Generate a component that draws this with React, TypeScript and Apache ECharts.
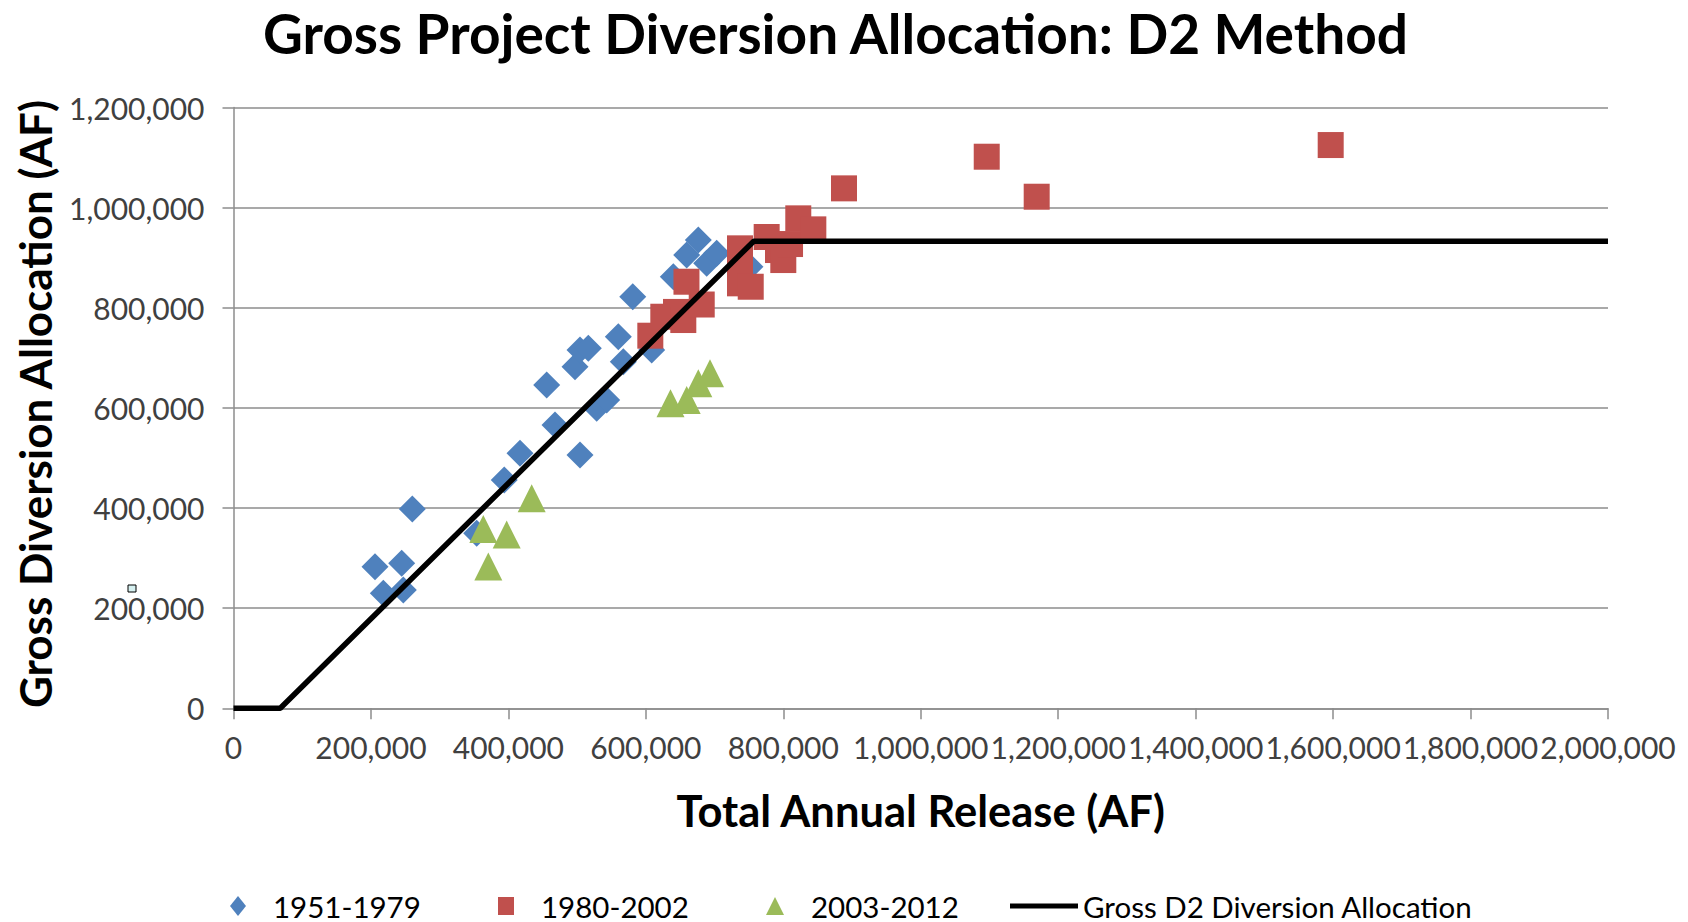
import React, { useEffect, useRef } from "react";
import * as echarts from "echarts";

const xTickValues = [0, 200000, 400000, 600000, 800000, 1000000, 1200000, 1400000, 1600000, 1800000, 2000000];
const yTickValues = [0, 200000, 400000, 600000, 800000, 1000000, 1200000];

const seriesNames = ["1951-1979", "1980-2002", "2003-2012", "Gross D2 Diversion Allocation"];

const blueX = [205900, 218000, 244700, 247100, 260200, 353900, 394000, 416900, 504200, 467800, 455700, 496900, 504200, 516300, 528500, 543000, 559900, 567200, 580900, 608500, 640000, 659400, 676300, 688500, 703100, 751500];
const blueY = [282800, 229700, 289600, 236300, 398000, 349500, 456000, 509300, 505900, 565800, 645700, 682200, 715600, 719000, 599200, 615700, 742200, 692200, 822000, 715600, 862000, 905300, 935300, 888800, 908700, 881900];

const redX = [606500, 625400, 643900, 654500, 659100, 681300, 737000, 737000, 737000, 752600, 775800, 792300, 800000, 809800, 821800, 843700, 888300, 1096000, 1168700, 1596500];
const redY = [744200, 782100, 791700, 775500, 852000, 806500, 918700, 888800, 848800, 842000, 941300, 915300, 895300, 927300, 978600, 956600, 1038500, 1101700, 1021800, 1125000];

const greenX = [363500, 397500, 370800, 433900, 635900, 659400, 676300, 693300];
const greenY = [358100, 347100, 283200, 419600, 609100, 615700, 649100, 669100];

const lineX = [0, 68000, 757000, 2000000];
const lineY = [0, 0, 933000, 933000];

const zip = (xs: number[], ys: number[]) => xs.map((x, i) => [x, ys[i]]);
const fmt = (v: number) => v.toLocaleString("en-US");

const FONT = "Lato";

export default function App() {
  const ref = useRef<HTMLDivElement>(null);
  useEffect(() => {
    document.body.style.margin = "0";
    const chart = echarts.init(ref.current!, null, { renderer: "svg" });
    const axisGray = "#8c8c8c";
    const legendBase = {
      orient: "horizontal",
      padding: 0,
      top: 891,
      itemGap: 0,
      textStyle: { fontFamily: FONT, fontSize: 29.5, color: "#000", padding: [0, 0, 0, 22] },
    };
    chart.setOption({
      animation: false,
      backgroundColor: "#fff",
      grid: { left: 233.5, right: 80, top: 107.5, bottom: 213.7, containLabel: false },
      xAxis: {
        type: "value",
        min: xTickValues[0],
        max: xTickValues[xTickValues.length - 1],
        interval: xTickValues[1] - xTickValues[0],
        axisLine: { show: true, lineStyle: { color: axisGray, width: 1.5 } },
        axisTick: { show: true, inside: false, length: 11, lineStyle: { color: axisGray, width: 1.5 } },
        axisLabel: { formatter: fmt, fontFamily: FONT, fontSize: 30, color: "#404040", margin: 24 },
        splitLine: { show: false },
      },
      yAxis: {
        type: "value",
        min: yTickValues[0],
        max: yTickValues[yTickValues.length - 1],
        interval: yTickValues[1] - yTickValues[0],
        axisLine: { show: true, lineStyle: { color: axisGray, width: 1.5 } },
        axisTick: { show: true, inside: false, length: 11, lineStyle: { color: axisGray, width: 1.5 } },
        axisLabel: { formatter: fmt, fontFamily: FONT, fontSize: 30, color: "#404040", margin: 29 },
        splitLine: { show: true, lineStyle: { color: axisGray, width: 1.5 } },
      },
      legend: [
        { ...legendBase, left: 230, itemWidth: 16, itemHeight: 20, data: [{ name: seriesNames[0], icon: "diamond" }] },
        { ...legendBase, left: 498, itemWidth: 16, itemHeight: 18, data: [{ name: seriesNames[1], icon: "rect" }] },
        { ...legendBase, left: 766, itemWidth: 18, itemHeight: 18, data: [{ name: seriesNames[2], icon: "triangle" }] },
        {
          ...legendBase,
          left: 1010,
          itemWidth: 68,
          itemHeight: 5,
          textStyle: { ...legendBase.textStyle, padding: [0, 0, 0, 0] },
          data: [{ name: seriesNames[3], icon: "rect" }],
        },
      ],
      graphic: [
        {
          type: "text",
          x: 835.5,
          y: 33,
          style: {
            text: "Gross Project Diversion Allocation: D2 Method",
            fontFamily: FONT,
            fontWeight: "bold",
            fontSize: 55,
            fill: "#000",
            textAlign: "center",
            textVerticalAlign: "middle",
          },
        },
        {
          type: "text",
          x: 920.75,
          y: 810,
          style: {
            text: "Total Annual Release (AF)",
            fontFamily: FONT,
            fontWeight: "bold",
            fontSize: 43.5,
            fill: "#000",
            textAlign: "center",
            textVerticalAlign: "middle",
          },
        },
        {
          type: "text",
          x: 35,
          y: 404,
          rotation: Math.PI / 2,
          style: {
            text: "Gross Diversion Allocation (AF)",
            fontFamily: FONT,
            fontWeight: "bold",
            fontSize: 44,
            fill: "#000",
            textAlign: "center",
            textVerticalAlign: "middle",
          },
        },
        {
          type: "rect",
          shape: { x: 128, y: 585, width: 8, height: 7 },
          style: { fill: "#d6f0f0", stroke: "#000", lineWidth: 1 },
        },
      ],
      series: [
        {
          name: seriesNames[0],
          type: "scatter",
          symbol: "diamond",
          symbolSize: 27,
          itemStyle: { color: "#4f81bd", opacity: 1 },
          data: zip(blueX, blueY),
        },
        {
          name: seriesNames[3],
          type: "line",
          showSymbol: false,
          symbol: "none",
          lineStyle: { color: "#000", width: 5.5 },
          itemStyle: { color: "#000" },
          data: zip(lineX, lineY),
        },
        {
          name: seriesNames[1],
          type: "scatter",
          symbol: "rect",
          symbolSize: 26,
          itemStyle: { color: "#c0504d", opacity: 1, borderRadius: 2 },
          data: zip(redX, redY),
        },
        {
          name: seriesNames[2],
          type: "scatter",
          symbol: "triangle",
          symbolSize: 28,
          itemStyle: { color: "#9bbb59", opacity: 1 },
          data: zip(greenX, greenY),
        },
      ],
    });
    return () => chart.dispose();
  }, []);
  return <div ref={ref} style={{ width: 1688, height: 922 }} />;
}
